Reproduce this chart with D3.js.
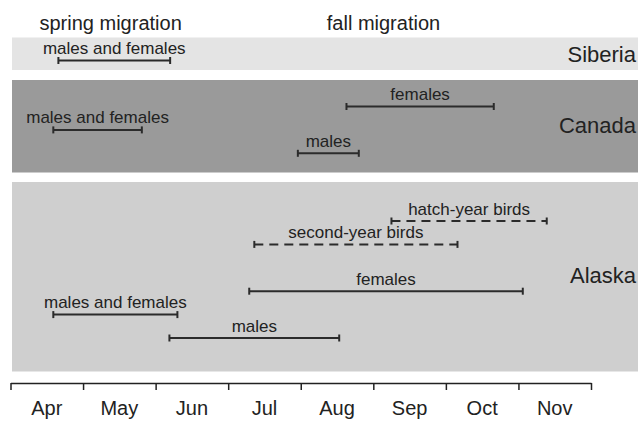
<!DOCTYPE html>
<html>
<head>
<meta charset="utf-8">
<script src="https://cdn.jsdelivr.net/npm/d3@7"></script>
<style>
  body { margin: 0; background: #fff; }
  svg text { font-family: "Liberation Sans", Arial, sans-serif; fill: #222; }
</style>
</head>
<body>
<svg id="chart" width="638" height="421"></svg>
<script>
// month ticks (labels sit between month boundaries)
var months = ["Apr", "May", "Jun", "Jul", "Aug", "Sep", "Oct", "Nov"];
var regions = ["Siberia", "Canada", "Alaska"];
var seasons = ["spring migration", "fall migration"];

// one entry per bar; start/end in months since Apr 1
var barRegion = ["Siberia", "Canada", "Canada", "Canada", "Alaska", "Alaska", "Alaska", "Alaska", "Alaska"];
var barLane   = [0, 0, 1, 2, 0, 1, 3, 4, 5];
var barLabel  = ["males and females", "females", "males and females", "males",
                 "hatch-year birds", "second-year birds", "females", "males and females", "males"];
var barStart  = [0.66, 4.63, 0.59, 3.96, 5.25, 3.36, 3.29, 0.59, 2.19];
var barEnd    = [2.20, 6.66, 1.81, 4.80, 7.39, 6.16, 7.06, 2.30, 4.53];
var barDashed = [false, false, false, false, true, true, false, false, false];

var svg = d3.select("#chart");

var x = d3.scaleLinear().domain([0, months.length]).range([10.5, 591]);

// band boxes and first lane per region
var bandBox = {
    Siberia: { top: 37.5, bottom: 70, lane0: 60.5, fill: "#e4e4e4", labelY: 62 },
    Canada:  { top: 80, bottom: 172.5, lane0: 106.5, fill: "#9a9a9a", labelY: 133 },
    Alaska:  { top: 182, bottom: 371.5, lane0: 221, fill: "#cfcfcf", labelY: 283 }
};
var laneStep = 23.4;

var bars = barLabel.map(function(d, i) {
    return { label: d, region: barRegion[i], lane: barLane[i],
             start: barStart[i], end: barEnd[i], dashed: barDashed[i] };
});

function laneY(d) {
    return bandBox[d.region].lane0 + d.lane * laneStep;
}

// background bands
svg.selectAll("rect.band")
    .data(regions)
  .enter()
    .append("rect")
    .attr("class", "band")
    .attr("x", 12)
    .attr("width", 638 - 12)
    .attr("y", function(d) { return bandBox[d].top; })
    .attr("height", function(d) { return bandBox[d].bottom - bandBox[d].top; })
    .attr("fill", function(d) { return bandBox[d].fill; });

svg.selectAll("text.region")
    .data(regions)
  .enter()
    .append("text")
    .attr("class", "region")
    .attr("x", 636)
    .attr("y", function(d) { return bandBox[d].labelY; })
    .attr("text-anchor", "end")
    .style("font-size", "22px")
    .text(function(d) { return d; });

// season headers
var seasonX = [1.38, 5.14];
svg.selectAll("text.season")
    .data(seasons)
  .enter()
    .append("text")
    .attr("class", "season")
    .attr("x", function(d, i) { return x(seasonX[i]); })
    .attr("y", 30)
    .attr("text-anchor", "middle")
    .style("font-size", "20px")
    .text(function(d) { return d; });

// bars
var g = svg.selectAll("g.bar")
    .data(bars)
  .enter()
    .append("g")
    .attr("class", "bar");

g.append("line")
    .attr("x1", function(d) { return x(d.start); })
    .attr("x2", function(d) { return x(d.end); })
    .attr("y1", laneY)
    .attr("y2", laneY)
    .attr("stroke", "#2b2b2b")
    .attr("stroke-width", 2)
    .attr("stroke-dasharray", function(d) { return d.dashed ? "9,6" : null; });

g.selectAll("line.cap")
    .data(function(d) { return [d.start, d.end].map(function(v) { return { v: v, y: laneY(d) }; }); })
  .enter()
    .append("line")
    .attr("class", "cap")
    .attr("x1", function(c) { return x(c.v); })
    .attr("x2", function(c) { return x(c.v); })
    .attr("y1", function(c) { return c.y - 3.5; })
    .attr("y2", function(c) { return c.y + 3.5; })
    .attr("stroke", "#2b2b2b")
    .attr("stroke-width", 2);

g.append("text")
    .attr("x", function(d) { return x((d.start + d.end) / 2); })
    .attr("y", function(d) { return laneY(d) - 6.5; })
    .attr("text-anchor", "middle")
    .style("font-size", "17px")
    .text(function(d) { return d.label; });

// month axis
var axis = d3.axisBottom(x)
    .tickValues(d3.range(months.length + 1))
    .tickSize(7)
    .tickSizeOuter(0)
    .tickFormat("");

var ax = svg.append("g")
    .attr("transform", "translate(0,383)")
    .call(axis);
ax.selectAll("path, line").attr("stroke", "#222").attr("stroke-width", 1.5);

svg.selectAll("text.month")
    .data(months)
  .enter()
    .append("text")
    .attr("class", "month")
    .attr("x", function(d, i) { return x(i + 0.5); })
    .attr("y", 415)
    .attr("text-anchor", "middle")
    .style("font-size", "20px")
    .text(function(d) { return d; });
</script>
</body>
</html>
